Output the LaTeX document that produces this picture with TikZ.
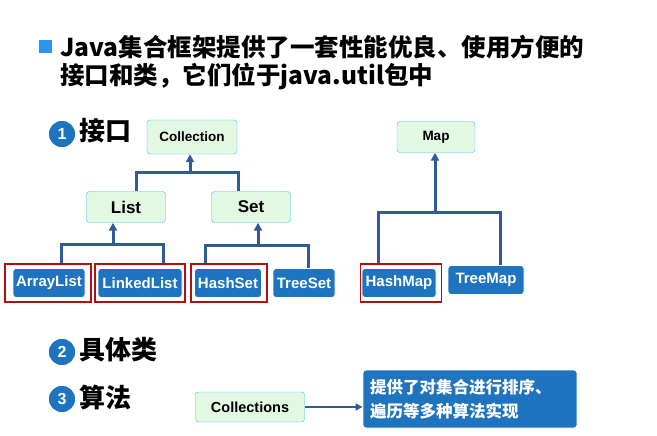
\documentclass[tikz,border=0pt]{standalone}
\usepackage{fontspec}
\setmainfont{Liberation Sans}
\newfontfamily\cjk{Noto Sans CJK SC}
\usetikzlibrary{arrows.meta,shapes.geometric}
\definecolor{lgreen}{HTML}{E3F8E3}
\definecolor{cedge}{HTML}{33BBEE}
\definecolor{dblue}{HTML}{1F74C0}
\definecolor{lnk}{HTML}{2F5C99}
\definecolor{redb}{HTML}{B01010}
\tikzset{x=1pt,y=-1pt,
 iface/.style={draw=cedge,fill=lgreen,rounded corners=3pt,minimum height=31pt,font=\bfseries\fontsize{13.5}{15}\selectfont,inner sep=2pt},
 impl/.style={draw=white,line width=0.8pt,fill=dblue,text=white,rounded corners=3pt,minimum height=29pt,font=\bfseries\fontsize{15}{17}\selectfont,inner sep=1pt},
 redbox/.style={draw=redb,line width=1.4pt},
 conn/.style={draw=lnk,line width=3pt},
 arr/.style={conn,-{Triangle[length=8pt,width=8pt]}},
 num/.style={circle,fill=dblue,draw=white,line width=1.5pt,text=white,minimum size=28pt,inner sep=0pt,font=\bfseries\fontsize{16}{16}\selectfont},
 head/.style={anchor=west,font=\cjk\bfseries\fontsize{26}{28}\selectfont}}
\begin{document}
\begin{tikzpicture}
\useasboundingbox (0,0) rectangle (657,436);
\fill[cedge!80!blue] (39,40) rectangle (52,53);
\node[anchor=west,font=\cjk\bfseries\fontsize{24.5}{28}\selectfont,inner sep=0pt] (t1) at (60,47) {Java集合框架提供了一套性能优良、使用方便的};
\node[anchor=west,font=\cjk\bfseries\fontsize{24.5}{28}\selectfont,inner sep=0pt] (t2) at (60,77) {接口和类，它们位于java.util包中};
\node[num] (n1) at (62,134) {1};
\node[head] (h1) at (76,131) {接口};
\node[num] (n2) at (62,352) {2};
\node[head] (h2) at (76,350) {具体类};
\node[num] (n3) at (62,399) {3};
\node[head] (h3) at (76,397) {算法};
\node[iface,minimum width=90pt,minimum height=34pt] (coll) at (192,137) {Collection};
\node[iface,minimum width=78pt] (map) at (436,137) {Map};
\node[iface,minimum width=79pt,font=\bfseries\fontsize{17}{19}\selectfont] (list) at (126,207) {List};
\node[iface,minimum width=79pt,font=\bfseries\fontsize{17}{19}\selectfont] (set) at (251,207) {Set};
\node[impl,minimum width=72pt] (al) at (49,283) {ArrayList};
\node[impl,minimum width=84pt] (ll) at (140,283) {LinkedList};
\node[impl,minimum width=67pt] (hs) at (228,283) {HashSet};
\node[impl,minimum width=62pt] (ts) at (304,283) {TreeSet};
\node[impl,minimum width=74pt] (hm) at (399,283) {HashMap};
\node[impl,minimum width=76pt] (tm) at (486,280) {TreeMap};
\node[redbox,minimum width=86pt,minimum height=38pt] (r1) at (48,283) {};
\node[redbox,minimum width=90pt,minimum height=38pt] (r2) at (140,283) {};
\node[redbox,minimum width=76pt,minimum height=38pt] (r3) at (229,283) {};
\node[redbox,minimum width=81pt,minimum height=38pt] (r4) at (401,283) {};
\coordinate (j1) at (190,172);
\coordinate (j2) at (113,244);
\coordinate (j3) at (258,245);
\coordinate (j4) at (435,212);
\draw[conn] (list.north -| 136,0) |- (j1) -| (set.north -| 238,0);
\draw[arr] (j1) -- (coll.south -| j1);
\draw[conn] (r1.north -| 61,0) |- (j2) -| (r2.north -| 163,0);
\draw[arr] (j2) -- (list.south -| j2);
\draw[conn] (r3.north -| 205,0) |- (j3) -| (ts.north -| 308,0);
\draw[arr] (j3) -- (set.south -| j3);
\draw[conn] (r4.north -| 378,0) |- (j4) -| (tm.north -| 500,0);
\draw[arr] (j4) -- (map.south -| j4);
\node[iface,minimum width=109pt,minimum height=30pt,font=\bfseries\fontsize{14.5}{16}\selectfont] (cols) at (250,407) {Collections};
\node[impl,minimum width=214pt,minimum height=58pt,align=left,text width=200pt,font=\cjk\bfseries\fontsize{16.5}{24}\selectfont] (desc) at (470,399) {提供了对集合进行排序、\\遍历等多种算法实现};
\draw[conn,line width=2pt,-{Triangle[length=7pt,width=7pt]}] (cols) -- (desc.west |- cols);
\end{tikzpicture}
\end{document}
